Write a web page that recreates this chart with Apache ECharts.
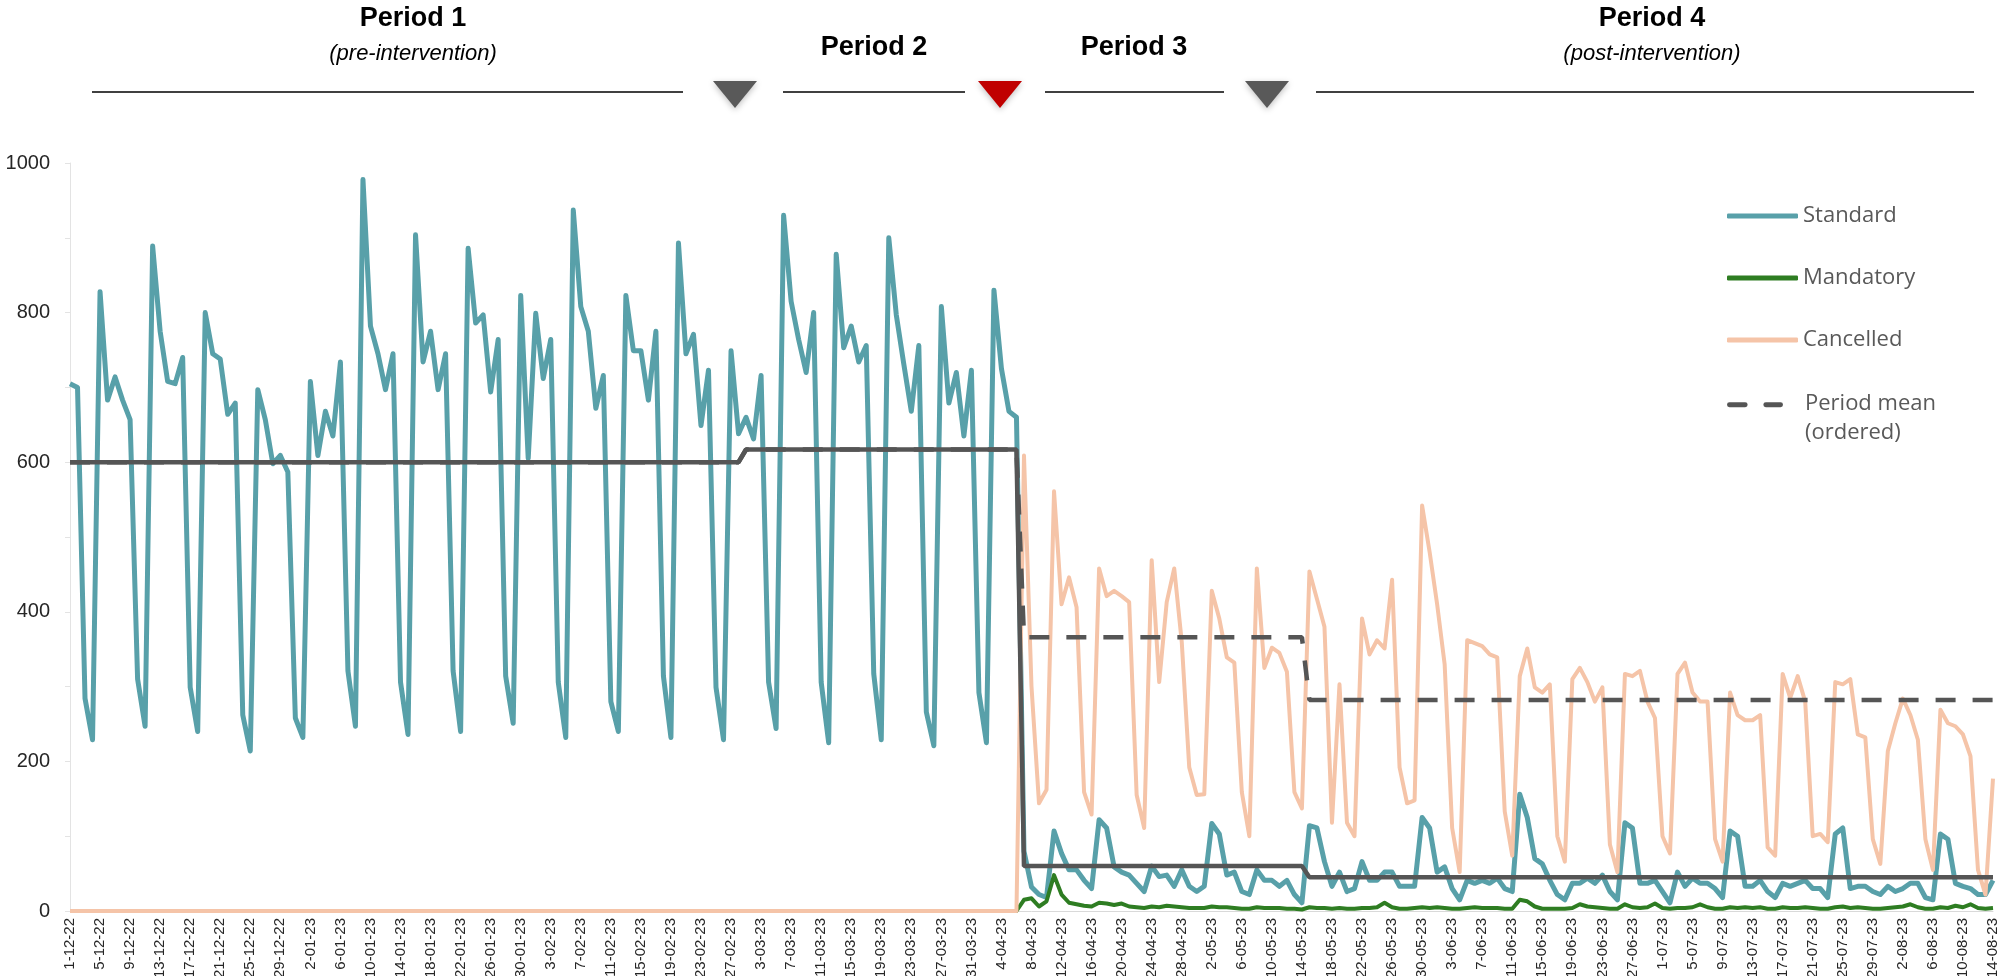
<!DOCTYPE html>
<html>
<head>
<meta charset="utf-8">
<script src="https://cdn.jsdelivr.net/npm/echarts@6/dist/echarts.min.js"></script>
<style>
  html, body { margin: 0; padding: 0; background: #ffffff; }
  #chart { width: 2003px; height: 976px; }
</style>
</head>
<body>
<div id="chart"></div>
<script>
// Daily order counts, 1 Dec 2022 to 14 Aug 2023
const firstDay = [2022, 12, 1];

const standard = [
  705, 700, 284, 229,
  828, 683, 714, 683, 657, 310, 247,
  889, 775, 708, 705, 740, 299, 240,
  800, 745, 738, 664, 679, 262, 214,
  697, 657, 598, 609, 587, 258, 232,
  708, 609, 668, 635, 734, 321, 247,
  978, 782, 745, 697, 745, 306, 236,
  904, 734, 775, 697, 745, 321, 240,
  886, 786, 797, 694, 764, 314, 251,
  823, 605, 799, 712, 764, 306, 232,
  937, 808, 775, 672, 716, 280, 240,
  823, 749, 749, 683, 775, 314, 232,
  893, 745, 771, 649, 723, 299, 229,
  749, 638, 660, 631, 716, 306, 244,
  930, 815, 764, 720, 800, 306, 225,
  878, 753, 782, 734, 756, 317, 229,
  900, 797, 731, 668, 756, 266, 221,
  808, 679, 720, 635, 723, 292, 225,
  830, 725, 668, 660, 80, 32, 22,
  18, 107, 77, 55, 55, 41, 30,
  122, 111, 59, 52, 48, 37, 26,
  60, 46, 48, 33, 55, 33, 26,
  33, 117, 103, 48, 52, 26, 22,
  55, 41, 41, 33, 41, 22, 11,
  114, 111, 66, 33, 52, 26, 30,
  66, 41, 41, 52, 52, 33, 33,
  33, 125, 111, 52, 59, 30, 15,
  41, 37, 41, 37, 44, 30, 26,
  156, 125, 70, 63, 41, 22, 15,
  37, 37, 44, 37, 48, 26, 15,
  118, 111, 37, 37, 41, 26, 11,
  52, 33, 44, 37, 37, 30, 18,
  107, 100, 33, 33, 41, 26, 18,
  37, 33, 37, 41, 30, 30, 18,
  103, 111, 30, 33, 33, 26, 22,
  33, 26, 30, 37, 37, 18, 15,
  103, 96, 37, 33, 30, 22, 22,
  41
];

// Mandatory and cancelled orders only exist from 7 Apr 2023 onwards
const daysBeforeIntervention = 127;
const mandatory = [
  15, 17, 6,
  13, 48, 22, 11, 9, 7, 6,
  11, 10, 8, 10, 6, 5, 4,
  6, 5, 7, 6, 5, 4, 4,
  4, 6, 5, 5, 4, 3, 3,
  5, 4, 4, 4, 3, 3, 2,
  5, 4, 4, 3, 4, 3, 3,
  4, 4, 5, 11, 5, 3, 3,
  4, 5, 4, 5, 4, 3, 3,
  4, 5, 4, 4, 4, 3, 3,
  15, 13, 6, 3, 3, 3, 3,
  4, 9, 6, 5, 4, 3, 3,
  9, 5, 4, 5, 10, 4, 3,
  4, 4, 5, 9, 5, 3, 3,
  5, 4, 5, 4, 5, 3, 3,
  5, 4, 4, 5, 4, 3, 3,
  5, 6, 4, 5, 4, 3, 3,
  4, 5, 6, 9, 5, 3, 3,
  5, 4, 7, 5, 9, 4, 3,
  4
];

const cancelled = [
  609, 300, 144,
  162, 561, 410, 446, 406, 159, 129,
  458, 421, 428, 421, 413, 155, 111,
  469, 306, 413, 458, 360, 192, 155,
  156, 428, 391, 339, 332, 159, 100,
  458, 325, 352, 345, 320, 159, 137,
  454, 417, 380, 118, 303, 118, 100,
  391, 343, 362, 351, 443, 192, 144,
  148, 542, 480, 410, 330, 111, 52,
  362, 358, 354, 343, 339, 133, 74,
  314, 351, 299, 292, 303, 100, 66,
  310, 325, 306, 280, 299, 89, 52,
  317, 314, 321, 280, 258, 100, 77,
  317, 332, 292, 280, 280, 96, 66,
  292, 262, 255, 255, 262, 85, 74,
  317, 285, 314, 280, 100, 103, 92,
  306, 303, 310, 236, 232, 96, 63,
  214, 251, 284, 262, 229, 96, 55,
  269, 251, 247, 236, 207, 55, 22,
  177
];

// Study periods: first day of each period and the period means
const periodStart = ['1-12-22', '1-03-23', '7-04-23', '15-05-23'];
const periodMeanOrdered = [600, 617, 366, 282];   // all ordered (incl. cancelled)
const periodMeanKept = [600, 617, 60, 45];        // ordered and not cancelled
const periodTitles = ['Period 1', 'Period 2', 'Period 3', 'Period 4'];
const periodSubtitles = ['(pre-intervention)', '', '', '(post-intervention)'];

const yTicks = { min: 0, max: 1000, step: 200 };

// ---- derived tables ----
function buildDays(ymd, count) {
  const out = [];
  const t0 = Date.UTC(ymd[0], ymd[1] - 1, ymd[2]);
  for (let i = 0; i < count; i++) {
    const dt = new Date(t0 + i * 86400000);
    const mm = String(dt.getUTCMonth() + 1).padStart(2, '0');
    const yy = String(dt.getUTCFullYear() % 100).padStart(2, '0');
    out.push(dt.getUTCDate() + '-' + mm + '-' + yy);
  }
  return out;
}
const days = buildDays(firstDay, standard.length);

function padFront(values, n) {
  return new Array(n).fill(0).concat(values);
}
const mandatoryFull = padFront(mandatory, daysBeforeIntervention);
const cancelledFull = padFront(cancelled, daysBeforeIntervention);

const startIdx = periodStart.map(d => days.indexOf(d));
function stepSeries(means) {
  return days.map((_, i) => {
    let p = 0;
    for (let k = 0; k < startIdx.length; k++) if (i >= startIdx[k]) p = k;
    return means[p];
  });
}

// Date labels use a narrow face when one is installed, otherwise the regular one a bit smaller
function dateLabelFont() {
  const ctx = document.createElement('canvas').getContext('2d');
  ctx.font = '17px "Liberation Sans Narrow", monospace';
  const narrow = ctx.measureText('1-12-22').width;
  ctx.font = '17px monospace';
  const mono = ctx.measureText('1-12-22').width;
  if (Math.abs(narrow - mono) > 0.5) return { family: '"Liberation Sans Narrow", sans-serif', size: 17 };
  return { family: '"Liberation Sans", Arial, sans-serif', size: 15 };
}
const dateFont = dateLabelFont();

// ---- period header above the plot ----
const headerX = [413, 874, 1134, 1652];
const headerLines = [[92, 683], [783, 965], [1045, 1224], [1316, 1974]];
const markers = [{ x: 735, c: '#595959' }, { x: 1000, c: '#c00000' }, { x: 1267, c: '#595959' }];

const graphics = [];
periodTitles.forEach((t, i) => {
  const two = periodSubtitles[i] !== '';
  graphics.push({
    type: 'text', silent: true,
    style: { text: t, x: headerX[i], y: two ? 19 : 48, align: 'center', verticalAlign: 'middle',
      font: 'bold 27px "Liberation Sans", Arial, sans-serif', fill: '#000000' }
  });
  if (two) {
    graphics.push({
      type: 'text', silent: true,
      style: { text: periodSubtitles[i], x: headerX[i], y: 54, align: 'center', verticalAlign: 'middle',
        font: 'italic 22px "Liberation Sans", Arial, sans-serif', fill: '#000000' }
    });
  }
  graphics.push({
    type: 'line', silent: true,
    shape: { x1: headerLines[i][0], y1: 92, x2: headerLines[i][1], y2: 92 },
    style: { stroke: '#000000', lineWidth: 1.5 }
  });
});
markers.forEach(m => {
  graphics.push({
    type: 'polygon', silent: true,
    shape: { points: [[m.x - 22, 81], [m.x + 22, 81], [m.x, 108]] },
    style: { fill: m.c, shadowBlur: 6, shadowColor: 'rgba(0,0,0,0.25)', shadowOffsetY: 2 }
  });
});

const FONT = '"Liberation Sans", Arial, sans-serif';
const LEGEND_FONT = '"Open Sans", sans-serif';
const C_STD = '#58a0a9', C_MAN = '#2e7d22', C_CAN = '#f5c4a8', C_MEAN = '#555555';

// dashed legend key: two dashes near the top of a 56x56 box, so that the
// key sits level with the first of the two text lines
const dashedKey = 'path://M0,0 M2,12H18A2,2,0,0,1,18,17H2A2,2,0,0,1,2,12Z M39,12H54A2,2,0,0,1,54,17H39A2,2,0,0,1,39,12Z M56,56';

const chart = echarts.init(document.getElementById('chart'), null, { renderer: 'canvas' });
chart.setOption({
  animation: false,
  backgroundColor: '#ffffff',
  graphic: graphics,
  grid: { left: 70, right: 10, top: 163, bottom: 65, containLabel: false, outerBoundsMode: 'none' },
  legend: [
    {
      orient: 'vertical', left: 1727, top: 203, padding: 0,
      itemWidth: 71, itemHeight: 5, itemGap: 36, selectedMode: false,
      textStyle: { fontFamily: LEGEND_FONT, fontSize: 22, color: '#595959', lineHeight: 26 },
      data: [
        { name: 'Standard', icon: 'roundRect' },
        { name: 'Mandatory', icon: 'roundRect' },
        { name: 'Cancelled', icon: 'roundRect' }
      ]
    },
    {
      orient: 'vertical', left: 1727, top: 389, padding: 0,
      itemWidth: 56, itemHeight: 56, selectedMode: false,
      formatter: n => n.replace(' (', '\n('),
      textStyle: { fontFamily: LEGEND_FONT, fontSize: 22, color: '#595959', lineHeight: 29,
        padding: [0, 0, 0, 17] },
      data: [{ name: 'Period mean (ordered)', icon: dashedKey }]
    }
  ],
  xAxis: {
    type: 'category', data: days, boundaryGap: false,
    axisLine: { show: true, lineStyle: { color: '#d9d9d9', width: 1 } },
    axisTick: { show: false },
    axisLabel: { interval: 3, rotate: 90, fontFamily: dateFont.family, fontSize: dateFont.size,
      color: '#262626', margin: 7 },
    splitLine: { show: false }
  },
  yAxis: {
    type: 'value', min: yTicks.min, max: yTicks.max, interval: yTicks.step,
    axisLine: { show: true, lineStyle: { color: '#e3e3e3', width: 1 } },
    axisTick: { show: true, length: 5, lineStyle: { color: '#e3e3e3' } },
    minorTick: { show: true, splitNumber: 2, length: 5, lineStyle: { color: '#e3e3e3' } },
    axisLabel: { fontFamily: FONT, fontSize: 20, color: '#262626', margin: 20, formatter: v => String(v) },
    splitLine: { show: false }
  },
  series: [
    { name: 'Standard', type: 'line', data: standard, symbol: 'none', z: 2,
      itemStyle: { color: C_STD }, lineStyle: { color: C_STD, width: 5, join: 'round' } },
    { name: 'Mandatory', type: 'line', data: mandatoryFull, symbol: 'none', z: 3,
      itemStyle: { color: C_MAN }, lineStyle: { color: C_MAN, width: 4, join: 'round' } },
    { name: 'Cancelled', type: 'line', data: cancelledFull, symbol: 'none', z: 4,
      itemStyle: { color: C_CAN }, lineStyle: { color: C_CAN, width: 4, join: 'round' } },
    { name: 'Period mean (ordered)', type: 'line', data: stepSeries(periodMeanOrdered), symbol: 'none', z: 5,
      itemStyle: { color: C_MEAN }, lineStyle: { color: C_MEAN, width: 4.5, type: [20, 17] } },
    { name: 'Period mean (kept)', type: 'line', data: stepSeries(periodMeanKept), symbol: 'none', z: 6,
      itemStyle: { color: C_MEAN }, lineStyle: { color: C_MEAN, width: 4.5 } }
  ]
});
</script>
</body>
</html>
